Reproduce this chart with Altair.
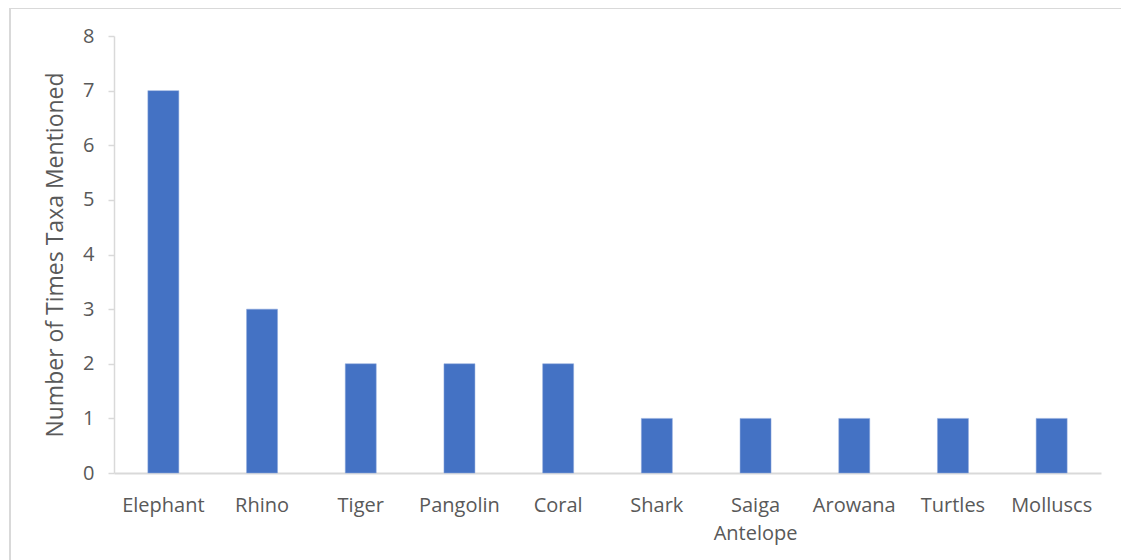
import altair as alt
import pandas as pd

taxa = ["Elephant", "Rhino", "Tiger", "Pangolin", "Coral", "Shark",
        "Saiga\nAntelope", "Arowana", "Turtles", "Molluscs"]
counts = [7, 3, 2, 2, 2, 1, 1, 1, 1, 1]
y_ticks = [0, 1, 2, 3, 4, 5, 6, 7, 8]

df = pd.DataFrame({"taxon": taxa, "count": counts})

FONT = "Open Sans"
GREY = "#595959"
LINE = "#d9d9d9"

bars = alt.Chart(df).mark_bar(color="#4472C4", stroke="#8fa9dc", strokeWidth=0.5).encode(
    x=alt.X("taxon:N", sort=taxa,
            scale=alt.Scale(paddingInner=0.686, paddingOuter=0.343),
            axis=alt.Axis(title=None, labelAngle=0, ticks=False,
                          labelExpr="split(datum.label, '\\n')",
                          labelLineHeight=28, labelPadding=22,
                          labelFontSize=20, labelColor=GREY, labelFont=FONT,
                          domainColor=LINE, domainWidth=2)),
    y=alt.Y("count:Q", scale=alt.Scale(domain=[0, 8], nice=False),
            axis=alt.Axis(title="Number of Times Taxa Mentioned", values=y_ticks,
                          grid=False, tickSize=6, tickColor=LINE, tickWidth=1.5,
                          domainColor=LINE, domainWidth=1.5,
                          labelFontSize=20, labelColor=GREY, labelFont=FONT,
                          labelPadding=14,
                          titleFontSize=23, titleColor=GREY, titleFont=FONT,
                          titleFontWeight="normal", titlePadding=15)),
)

border = alt.Chart(pd.DataFrame({"a": [0]})).mark_rect(
    fill=None, stroke=LINE, strokeWidth=2, clip=False
).encode(
    x=alt.value(-104), x2=alt.value(1040),
    y=alt.value(-28), y2=alt.value(560),
)

chart = alt.layer(border, bars).properties(
    width=987, height=437,
    autosize=alt.AutoSizeParams(type="none"),
    padding={"left": 106, "top": 28, "right": 20, "bottom": 87},
).configure_view(stroke=None)

chart.save("out.html", embed_options={"renderer": "svg", "actions": False})
